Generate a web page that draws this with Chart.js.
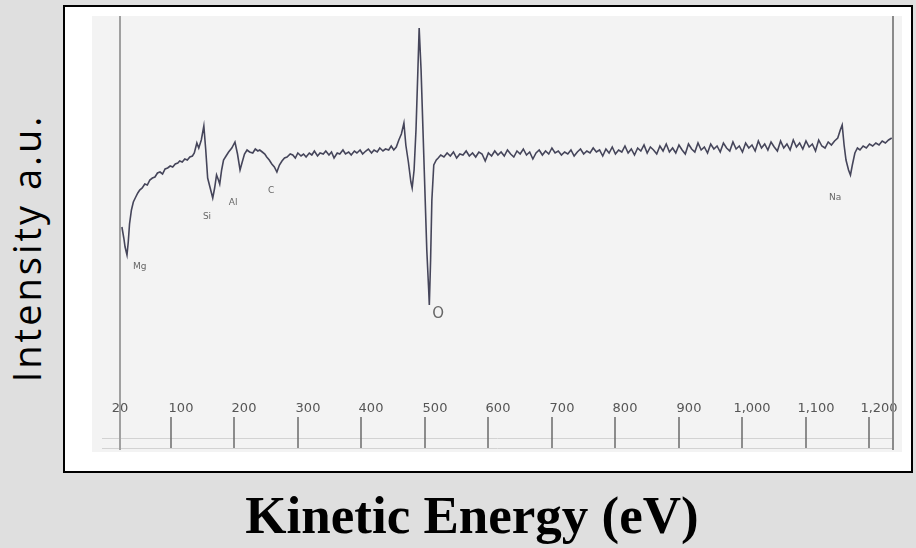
<!DOCTYPE html>
<html>
<head>
<meta charset="utf-8">
<script src="https://cdn.jsdelivr.net/npm/chart.js@4"></script>
<style>
  html, body { margin: 0; padding: 0; }
  body { width: 916px; height: 548px; background: #dfdfdf; position: relative; overflow: hidden; }
  #frame { position: absolute; left: 63px; top: 5px; width: 846px; height: 464px; border: 2px solid #000; background: #fff; }
  #panel { position: absolute; left: 27px; top: 9px; width: 810px; height: 436px; background: #f3f3f3; }
  #yTitle { position: absolute; left: 26px; top: 248px; transform: translate(-50%, -50%) rotate(-90deg);
            font: 38px/38px "Open Sans", sans-serif; letter-spacing: 3px; white-space: nowrap; color: #000; }
  #xTitle { position: absolute; left: 472px; top: 489px; transform: translateX(-50%);
            font: bold 53px/53px "Liberation Serif", "Times New Roman", serif; white-space: nowrap; color: #000; }
</style>
</head>
<body>
<div id="frame"><div id="panel"><canvas id="chart"></canvas></div></div>
<div id="yTitle">Intensity a.u.</div>
<div id="xTitle">Kinetic Energy (eV)</div>
<script>
// ── Spectrum (kinetic energy in eV, intensity in a.u.) ──
const ENERGY = [
  23, 26, 28, 31, 33, 35, 38, 41, 44, 48, 51, 55, 59, 63, 67, 71, 75, 79, 83, 87,
  91, 95, 99, 103, 107, 111, 114, 118, 122, 126, 130, 134, 137, 141, 144, 148, 152, 155, 158, 162,
  166, 169, 172, 175, 177, 180, 183, 187, 191, 196, 201, 205, 209, 212, 216, 220, 224, 229, 233, 237,
  240, 244, 248, 251, 255, 259, 263, 267, 271, 275, 279, 283, 288, 292, 296, 300, 305, 309, 313, 318,
  322, 326, 331, 335, 340, 344, 349, 353, 357, 362, 366, 371, 375, 380, 384, 389, 393, 398, 402, 407,
  411, 416, 420, 425, 429, 434, 438, 443, 447, 451, 455, 459, 463, 467, 470, 474, 478, 480, 483, 486,
  489, 491, 494, 497, 500, 503, 506, 507, 509, 511, 514, 518, 521, 525, 530, 535, 540, 545, 550, 555,
  560, 565, 570, 575, 580, 585, 590, 595, 600, 605, 610, 615, 620, 625, 630, 635, 640, 645, 650, 655,
  660, 665, 670, 675, 680, 685, 690, 695, 700, 705, 710, 715, 720, 725, 730, 735, 740, 745, 750, 755,
  760, 765, 770, 775, 780, 785, 790, 795, 800, 805, 810, 815, 820, 825, 830, 835, 840, 845, 850, 855,
  860, 865, 870, 875, 880, 885, 890, 895, 900, 905, 910, 915, 920, 925, 930, 935, 940, 945, 950, 955,
  960, 965, 970, 975, 980, 985, 990, 995, 1000, 1005, 1010, 1015, 1020, 1025, 1030, 1035, 1040, 1045, 1050, 1055,
  1060, 1065, 1070, 1075, 1080, 1085, 1090, 1095, 1100, 1105, 1110, 1115, 1120, 1125, 1130, 1135, 1140, 1145, 1150, 1154,
  1157, 1160, 1163, 1167, 1170, 1173, 1177, 1181, 1185, 1190, 1195, 1200, 1205, 1210, 1215, 1220, 1225, 1230, 1235
];
const INTENSITY = [
  223, 212, 203, 195, 208, 226, 240, 248, 252, 257, 260, 262, 266, 265, 270, 272, 273, 277, 278, 276,
  281, 282, 284, 283, 286, 287, 289, 288, 291, 290, 293, 294, 297, 307, 302, 310, 324, 300, 272, 262,
  252, 262, 275, 270, 266, 280, 290, 294, 298, 302, 308, 296, 280, 287, 296, 300, 298, 297, 301, 299,
  300, 298, 296, 293, 290, 286, 283, 278, 285, 289, 292, 293, 296, 295, 292, 297, 294, 296, 293, 297,
  295, 299, 294, 297, 296, 299, 295, 298, 292, 297, 296, 300, 296, 298, 295, 299, 297, 300, 296, 299,
  301, 297, 300, 298, 302, 299, 301, 300, 304, 300, 303, 310, 316, 327, 305, 288, 268, 262, 280, 320,
  380, 422, 380, 320, 260, 200, 160, 145, 190, 250, 285, 290, 292, 295, 293, 297, 294, 298, 292, 296,
  295, 299, 294, 297, 293, 298, 296, 289, 297, 294, 299, 295, 298, 294, 300, 296, 293, 299, 296, 301,
  295, 298, 291, 297, 300, 295, 299, 296, 302, 297, 299, 295, 298, 296, 300, 294, 298, 301, 296, 299,
  297, 302, 298, 300, 294, 301, 297, 303, 296, 300, 298, 304, 297, 301, 295, 302, 299, 305, 297, 303,
  300, 296, 304, 299, 306, 298, 302, 297, 305, 300, 296, 306, 301, 298, 307, 300, 303, 297, 306, 301,
  304, 298, 307, 302, 299, 308, 301, 304, 298, 307, 302, 305, 299, 309, 302, 306, 300, 308, 303, 299,
  309, 302, 306, 300, 310, 303, 307, 301, 309, 303, 306, 299, 310, 304, 302, 308, 305, 309, 312, 320,
  325, 305, 290, 280, 275, 285, 297, 302, 300, 304, 302, 306, 304, 307, 305, 309, 307, 310, 312
];

// ── Axis ticks (eV) ──
const TICK_VALUES = [20, 100, 200, 300, 400, 500, 600, 700, 800, 900, 1000, 1100, 1200];
const TICK_LABELS = ['20', '100', '200', '300', '400', '500', '600', '700', '800', '900', '1,000', '1,100', '1,200'];

// ── Peak markers ──
const PEAK_NAMES = ['Mg', 'Si', 'Al', 'C', 'O', 'Na'];
const PEAK_ENERGY = [51, 157, 198, 258, 521, 1146];
const PEAK_INTENSITY = [183, 233, 247, 259, 136, 252];

// ── Decorations drawn from the scales ──
const augerDecor = {
  id: 'augerDecor',
  beforeDatasetsDraw(chart) {
    const { ctx, chartArea: a, scales: { x, y } } = chart;
    ctx.save();
    // faint baseline rules under the ticks
    ctx.strokeStyle = '#d2d2d2';
    ctx.lineWidth = 1;
    [a.bottom - 12, a.bottom - 2].forEach(py => {
      ctx.beginPath(); ctx.moveTo(a.left - 18, py + 0.5); ctx.lineTo(a.right, py + 0.5); ctx.stroke();
    });
    // tick marks and labels
    ctx.strokeStyle = '#6a6a6a';
    ctx.lineWidth = 1.5;
    ctx.fillStyle = '#555';
    ctx.font = '13px "DejaVu Sans", sans-serif';
    ctx.textAlign = 'center';
    ctx.textBaseline = 'middle';
    TICK_VALUES.forEach((v, i) => {
      const px = Math.round(x.getPixelForValue(v));
      if (i > 0) {
        ctx.beginPath(); ctx.moveTo(px, a.bottom - 33); ctx.lineTo(px, a.bottom - 2); ctx.stroke();
      }
      ctx.fillText(TICK_LABELS[i], px + (i === 0 ? 0 : 10), a.bottom - 41);
    });
    // side frame lines
    ctx.strokeStyle = '#a0a0a0';
    ctx.lineWidth = 2;
    ctx.beginPath(); ctx.moveTo(a.left, a.top); ctx.lineTo(a.left, a.bottom); ctx.stroke();
    ctx.strokeStyle = '#8a8a8a';
    ctx.beginPath(); ctx.moveTo(a.right, a.top - 3); ctx.lineTo(a.right, a.bottom); ctx.stroke();
    // peak names
    ctx.fillStyle = '#666';
    PEAK_NAMES.forEach((n, i) => {
      ctx.font = n === 'O' ? '15px "DejaVu Sans", sans-serif' : '9px "DejaVu Sans", sans-serif';
      ctx.fillText(n, x.getPixelForValue(PEAK_ENERGY[i]), y.getPixelForValue(PEAK_INTENSITY[i]));
    });
    ctx.restore();
  }
};

function initChart() {
  const ctx = document.getElementById('chart').getContext('2d');
  new Chart(ctx, {
    type: 'line',
    data: {
      datasets: [{
        label: 'Auger spectrum',
        data: ENERGY.map((e, i) => ({ x: e, y: INTENSITY[i] })),
        borderColor: '#45455a',
        borderWidth: 1.6,
        pointRadius: 0,
        tension: 0,
        fill: false,
      }],
    },
    options: {
      responsive: true, maintainAspectRatio: false, animation: false,
      layout: { padding: { left: 28, right: 9, top: 0, bottom: 2 } },
      plugins: { legend: { display: false }, tooltip: { enabled: false } },
      scales: {
        x: { type: 'linear', min: 20, max: 1237, display: false },
        y: { min: 0, max: 434, display: false },
      },
    },
    plugins: [augerDecor],
  });
}

document.addEventListener('DOMContentLoaded', initChart);
</script>
</body>
</html>
